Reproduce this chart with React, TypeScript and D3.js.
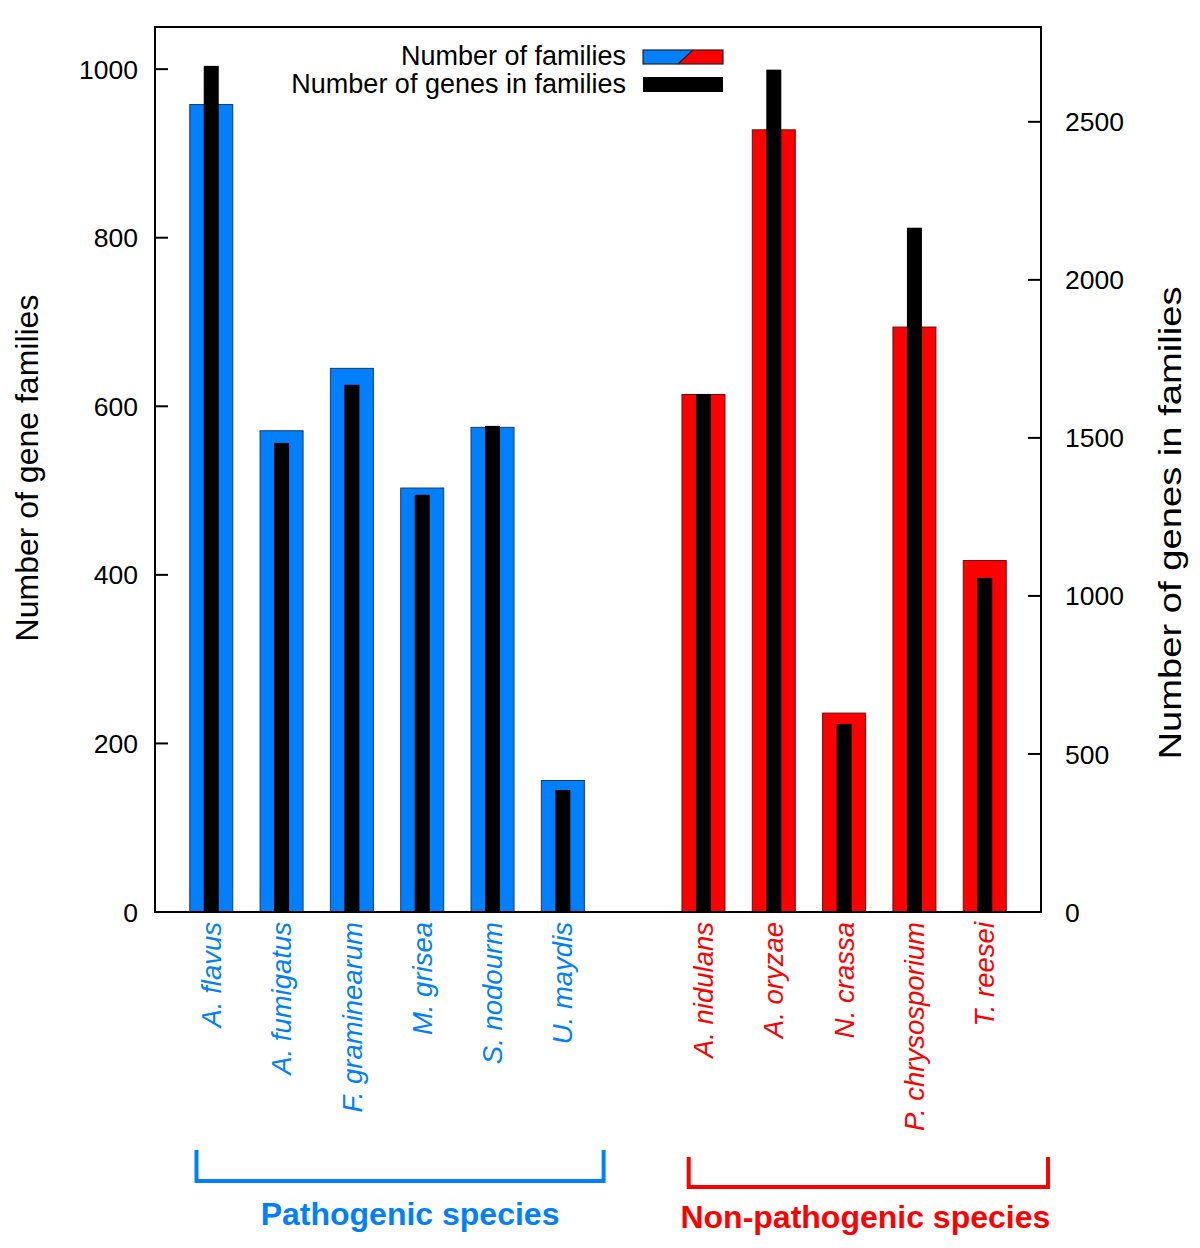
import React, { useEffect, useRef } from 'react';
import * as d3 from 'd3';

// species, grouped as in the figure
const pathogenic = ['A. flavus', 'A. fumigatus', 'F. graminearum', 'M. grisea', 'S. nodourm', 'U. maydis'];
const nonPathogenic = ['A. nidulans', 'A. oryzae', 'N. crassa', 'P. chrysosporium', 'T. reesei'];
const species = [...pathogenic, ...nonPathogenic];

// number of gene families (left axis)
const families = [958, 571, 645, 503, 575, 156, 614, 928, 236, 694, 417];
// number of genes in families (right axis)
const genes = [2677, 1484, 1668, 1320, 1538, 386, 1639, 2665, 595, 2165, 1057];

const leftTicks = [0, 200, 400, 600, 800, 1000];
const rightTicks = [0, 500, 1000, 1500, 2000, 2500];

const BLUE = '#0080ff';
const RED = '#ff0000';
const FONT = '"Liberation Sans", Arial, sans-serif';

const W = 1200;
const H = 1248;
const plot = { left: 155, right: 1041, top: 27, bottom: 912 };

export default function App() {
  const ref = useRef<SVGSVGElement>(null);

  useEffect(() => {
    const svg = d3.select(ref.current);
    svg.selectAll('*').remove();

    // x slots: one empty slot between the two groups
    const slots = [...pathogenic, '__gap__', ...nonPathogenic];
    const x = d3.scalePoint<string>().domain(slots).range([plot.left, plot.right]).padding(0.8);
    const step = x.step();
    const yL = d3.scaleLinear().domain([0, 1050]).range([plot.bottom, plot.top]);
    const yR = d3.scaleLinear().domain([0, 2800]).range([plot.bottom, plot.top]);

    const colorOf = (s: string) => (pathogenic.includes(s) ? BLUE : RED);
    const strokeOf = (s: string) => (pathogenic.includes(s) ? '#1a3a66' : '#6a1010');

    const famW = 43;
    const geneW = 15;

    // family bars
    svg
      .append('g')
      .selectAll('rect')
      .data(species)
      .enter()
      .append('rect')
      .attr('x', (d) => (x(d) as number) - famW / 2)
      .attr('y', (d, i) => yL(families[i]))
      .attr('width', famW)
      .attr('height', (d, i) => plot.bottom - yL(families[i]))
      .attr('fill', colorOf)
      .attr('stroke', strokeOf)
      .attr('stroke-width', 1);

    // gene bars
    svg
      .append('g')
      .selectAll('rect')
      .data(species)
      .enter()
      .append('rect')
      .attr('x', (d) => (x(d) as number) - geneW / 2)
      .attr('y', (d, i) => yR(genes[i]))
      .attr('width', geneW)
      .attr('height', (d, i) => plot.bottom - yR(genes[i]))
      .attr('fill', '#000');

    // frame
    svg
      .append('rect')
      .attr('x', plot.left)
      .attr('y', plot.top)
      .attr('width', plot.right - plot.left)
      .attr('height', plot.bottom - plot.top)
      .attr('fill', 'none')
      .attr('stroke', '#000')
      .attr('stroke-width', 2);

    // left axis (ticks inward)
    const gl = svg.append('g');
    gl.selectAll('line')
      .data(leftTicks)
      .enter()
      .append('line')
      .attr('x1', plot.left)
      .attr('x2', plot.left + 13)
      .attr('y1', (d) => yL(d))
      .attr('y2', (d) => yL(d))
      .attr('stroke', '#000')
      .attr('stroke-width', 2);
    gl.selectAll('text')
      .data(leftTicks)
      .enter()
      .append('text')
      .attr('x', plot.left - 17)
      .attr('y', (d) => yL(d))
      .attr('dy', '0.36em')
      .attr('text-anchor', 'end')
      .attr('font-family', FONT)
      .attr('font-size', 26.5)
      .text((d) => d);

    // right axis (ticks inward)
    const gr = svg.append('g');
    gr.selectAll('line')
      .data(rightTicks)
      .enter()
      .append('line')
      .attr('x1', plot.right - 13)
      .attr('x2', plot.right)
      .attr('y1', (d) => yR(d))
      .attr('y2', (d) => yR(d))
      .attr('stroke', '#000')
      .attr('stroke-width', 2);
    gr.selectAll('text')
      .data(rightTicks)
      .enter()
      .append('text')
      .attr('x', plot.right + 24)
      .attr('y', (d) => yR(d))
      .attr('dy', '0.36em')
      .attr('text-anchor', 'start')
      .attr('font-family', FONT)
      .attr('font-size', 26.5)
      .text((d) => d);

    // axis titles
    svg
      .append('text')
      .attr('transform', 'translate(38, 468) rotate(-90)')
      .attr('text-anchor', 'middle')
      .attr('font-family', FONT)
      .attr('font-size', 32)
      .text('Number of gene families');
    svg
      .append('text')
      .attr('transform', 'translate(1181, 523) rotate(-90)')
      .attr('text-anchor', 'middle')
      .attr('font-family', FONT)
      .attr('font-size', 32)
      .attr('textLength', 473)
      .attr('lengthAdjust', 'spacingAndGlyphs')
      .text('Number of genes in families');

    // species labels
    svg
      .append('g')
      .selectAll('text')
      .data(species)
      .enter()
      .append('text')
      .attr('transform', (d) => `translate(${x(d)}, ${plot.bottom + 10}) rotate(-90)`)
      .attr('dy', '0.35em')
      .attr('text-anchor', 'end')
      .attr('font-family', FONT)
      .attr('font-style', 'italic')
      .attr('font-size', 27.5)
      .attr('fill', colorOf)
      .text((d) => d);

    // legend
    const lg = svg.append('g');
    const swX = 643;
    const swW = 80;
    lg.append('text')
      .attr('x', 626)
      .attr('y', 65)
      .attr('text-anchor', 'end')
      .attr('font-family', FONT)
      .attr('font-size', 27)
      .text('Number of families');
    lg.append('text')
      .attr('x', 626)
      .attr('y', 93)
      .attr('text-anchor', 'end')
      .attr('font-family', FONT)
      .attr('font-size', 27)
      .text('Number of genes in families');
    lg.append('path')
      .attr('d', `M${swX},50 L${swX + 50},50 L${swX + 35},64 L${swX},64 Z`)
      .attr('fill', BLUE);
    lg.append('path')
      .attr('d', `M${swX + 50},50 L${swX + swW},50 L${swX + swW},64 L${swX + 35},64 Z`)
      .attr('fill', RED);
    lg.append('line')
      .attr('x1', swX + 50)
      .attr('y1', 50)
      .attr('x2', swX + 35)
      .attr('y2', 64)
      .attr('stroke', '#222')
      .attr('stroke-width', 1.2);
    lg.append('rect')
      .attr('x', swX)
      .attr('y', 50)
      .attr('width', swW)
      .attr('height', 14)
      .attr('fill', 'none')
      .attr('stroke', '#222')
      .attr('stroke-width', 1.2);
    lg.append('rect')
      .attr('x', swX)
      .attr('y', 77)
      .attr('width', swW)
      .attr('height', 15)
      .attr('fill', '#000');

    // group brackets
    const groups = [
      { names: pathogenic, label: 'Pathogenic species', color: BLUE, top: 1150, bottom: 1181, l: 0.21, r: 0.58, ty: 1225, dx: 10 },
      { names: nonPathogenic, label: 'Non-pathogenic species', color: RED, top: 1157, bottom: 1187, l: 0.21, r: 0.9, ty: 1228, dx: -3 },
    ];
    groups.forEach((g) => {
      const x0 = (x(g.names[0]) as number) - g.l * step;
      const x1 = (x(g.names[g.names.length - 1]) as number) + g.r * step;
      svg
        .append('path')
        .attr('d', `M${x0},${g.top} L${x0},${g.bottom} L${x1},${g.bottom} L${x1},${g.top}`)
        .attr('fill', 'none')
        .attr('stroke', g.color)
        .attr('stroke-width', 4);
      svg
        .append('text')
        .attr('x', (x0 + x1) / 2 + g.dx)
        .attr('y', g.ty)
        .attr('text-anchor', 'middle')
        .attr('font-family', FONT)
        .attr('font-weight', 'bold')
        .attr('font-size', 32)
        .attr('fill', g.color)
        .text(g.label);
    });
  }, []);

  return (
    <svg
      ref={ref}
      width={W}
      height={H}
      style={{ position: 'absolute', left: 0, top: 0, background: '#fff' }}
    />
  );
}
